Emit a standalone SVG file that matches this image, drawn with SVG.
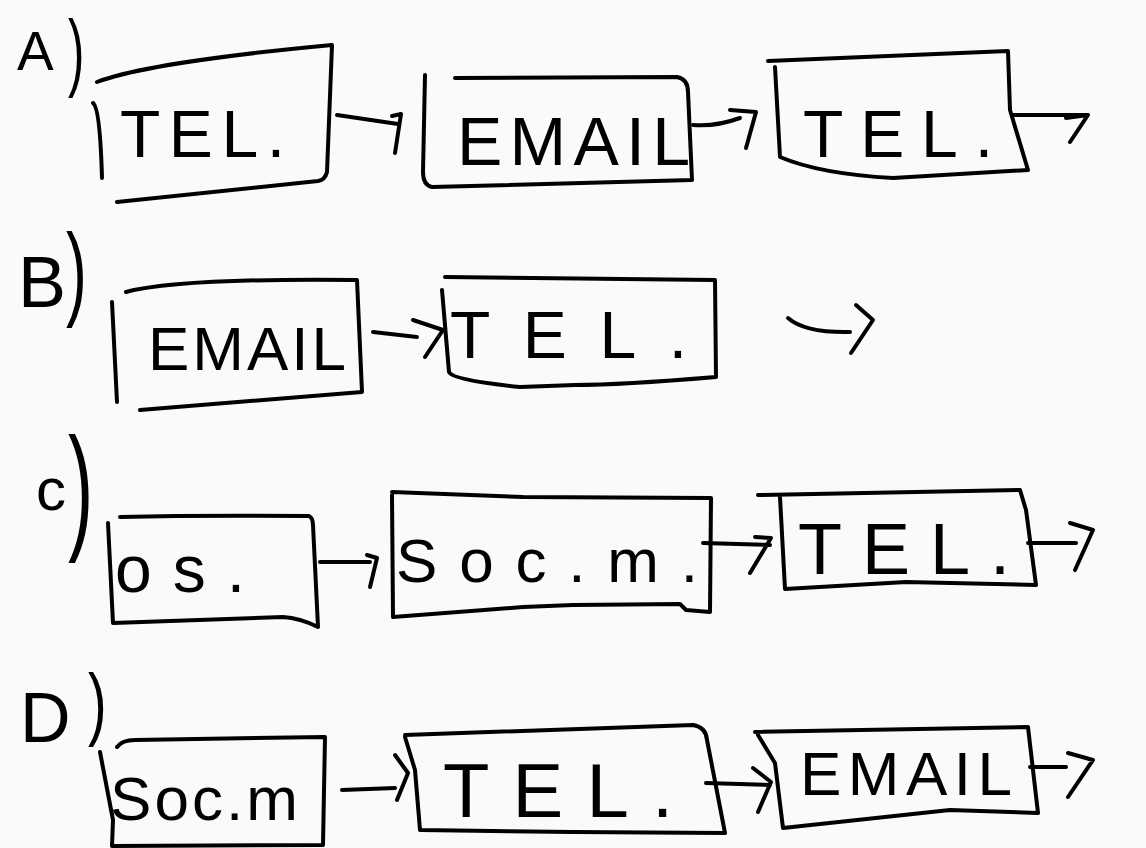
<svg xmlns="http://www.w3.org/2000/svg" width="1146" height="848" viewBox="0 0 1146 848">
<style>
.bx{fill:none;stroke:#000;stroke-width:4;stroke-linecap:round;stroke-linejoin:round}
.cn{fill:none;stroke:#000;stroke-width:4;stroke-linecap:round;stroke-linejoin:round}
text{font-family:"Liberation Sans","DejaVu Sans",sans-serif;fill:#000}
</style>
<rect width="1146" height="848" fill="#fafafa"/>
<g id="labels">
<text x="17" y="70" font-size="55">A</text>
<text transform="translate(68,80) scale(0.6,1.05)" font-size="82">)</text>
<text x="18" y="307" font-size="72">B</text>
<text transform="translate(66,306) scale(0.6,1)" font-size="104">)</text>
<text x="36" y="510" font-size="60">c</text>
<text transform="translate(68,534) scale(0.55,1)" font-size="138">)</text>
<text x="20" y="742" font-size="70">D</text>
<text transform="translate(88,730) scale(0.7,1)" font-size="80">)</text>
</g>
<g id="a1"><path class="bx" d="M93,103 Q100,108 102,178"/><path class="bx" d="M97,82 Q150,62 332,45 L327,172 Q325,180 318,181 L117,202"/><text x="120" y="157" font-size="66" textLength="165" lengthAdjust="spacing">TEL.</text></g>
<g id="a2"><path class="bx" d="M455,78 L677,77 Q688,79 688,92 L692,180 Q560,184 432,187 Q423,185 423,172 L425,75"/><text x="457" y="165" font-size="68" textLength="233" lengthAdjust="spacing">EMAIL</text></g>
<g id="a3"><path class="bx" d="M768,61 L1008,51 L1010,110 L1028,170 L893,178 Q820,174 780,157 L775,67"/><text x="803" y="157" font-size="66" textLength="190" lengthAdjust="spacing">TEL.</text></g>
<g id="b1"><path class="bx" d="M112,302 L117,402"/><path class="bx" d="M126,292 Q180,278 357,280 L362,392 L140,410"/><text x="148" y="370" font-size="62" textLength="198" lengthAdjust="spacing">EMAIL</text></g>
<g id="b2"><path class="bx" d="M445,277 L715,280 L716,377 Q620,385 575,385 L520,387 Q452,380 449,372 L442,290"/><text x="450" y="358" font-size="66" textLength="237" lengthAdjust="spacing">TEL.</text></g>
<g id="c1"><path class="bx" d="M120,517 Q200,515 309,516 Q313,518 313,525 L318,627 Q300,618 283,617 L113,623 L108,523"/><text x="115" y="592" font-size="66" textLength="130" lengthAdjust="spacing">os.</text></g>
<g id="c2"><path class="bx" d="M392,492 L523,497 L711,498 L710,612 L686,610 L680,604 L573,605 L523,607 L393,617 L392,495"/><text x="396" y="582" font-size="62" textLength="302" lengthAdjust="spacing">Soc.m.</text></g>
<g id="c3"><path class="bx" d="M758,495 L1020,490 L1026,510 L1036,585 L906,582 L785,589 L780,497"/><text x="798" y="574" font-size="72" textLength="212" lengthAdjust="spacing">TEL.</text></g>
<g id="d1"><path class="bx" d="M117,747 Q122,740 135,740 L325,737 L323,845 L112,846 L113,820 L100,752"/><text x="110" y="820" font-size="62" textLength="188" lengthAdjust="spacing">Soc.m</text></g>
<g id="d2"><path class="bx" d="M405,735 L693,725 Q706,727 707,740 L725,833 L573,832 L420,830 L415,770 L405,737"/><text x="443" y="817" font-size="76" textLength="230" lengthAdjust="spacing">TEL.</text></g>
<g id="d3"><path class="bx" d="M755,732 L1028,727 L1038,813 L950,810 L783,828 L775,763 L758,735"/><text x="800" y="795" font-size="62" textLength="212" lengthAdjust="spacing">EMAIL</text></g>
<g id="connectors">
<path class="cn" d="M337,115 L398,124 M392,116 L401,114 L395,153"/>
<path class="cn" d="M693,125 Q715,127 740,118 M730,110 L756,112 L746,148"/>
<path class="cn" d="M1013,115 L1086,115 M1066,118 L1088,115 L1070,142"/>
<path class="cn" d="M373,332 L417,337 M413,320 L443,330 L425,357"/>
<path class="cn" d="M788,318 Q805,333 850,332 M856,305 L873,320 L851,353"/>
<path class="cn" d="M320,562 L370,562 M367,555 L377,558 L370,587"/>
<path class="cn" d="M703,543 L770,545 M755,537 L771,538 L750,573"/>
<path class="cn" d="M1028,543 L1076,543 M1070,523 L1093,530 L1075,570"/>
<path class="cn" d="M342,790 L395,788 M395,755 L408,773 L397,800"/>
<path class="cn" d="M706,783 L770,785 M753,768 L771,782 L758,812"/>
<path class="cn" d="M1030,767 L1066,767 M1068,753 L1093,760 L1068,797"/>
</g>
</svg>
